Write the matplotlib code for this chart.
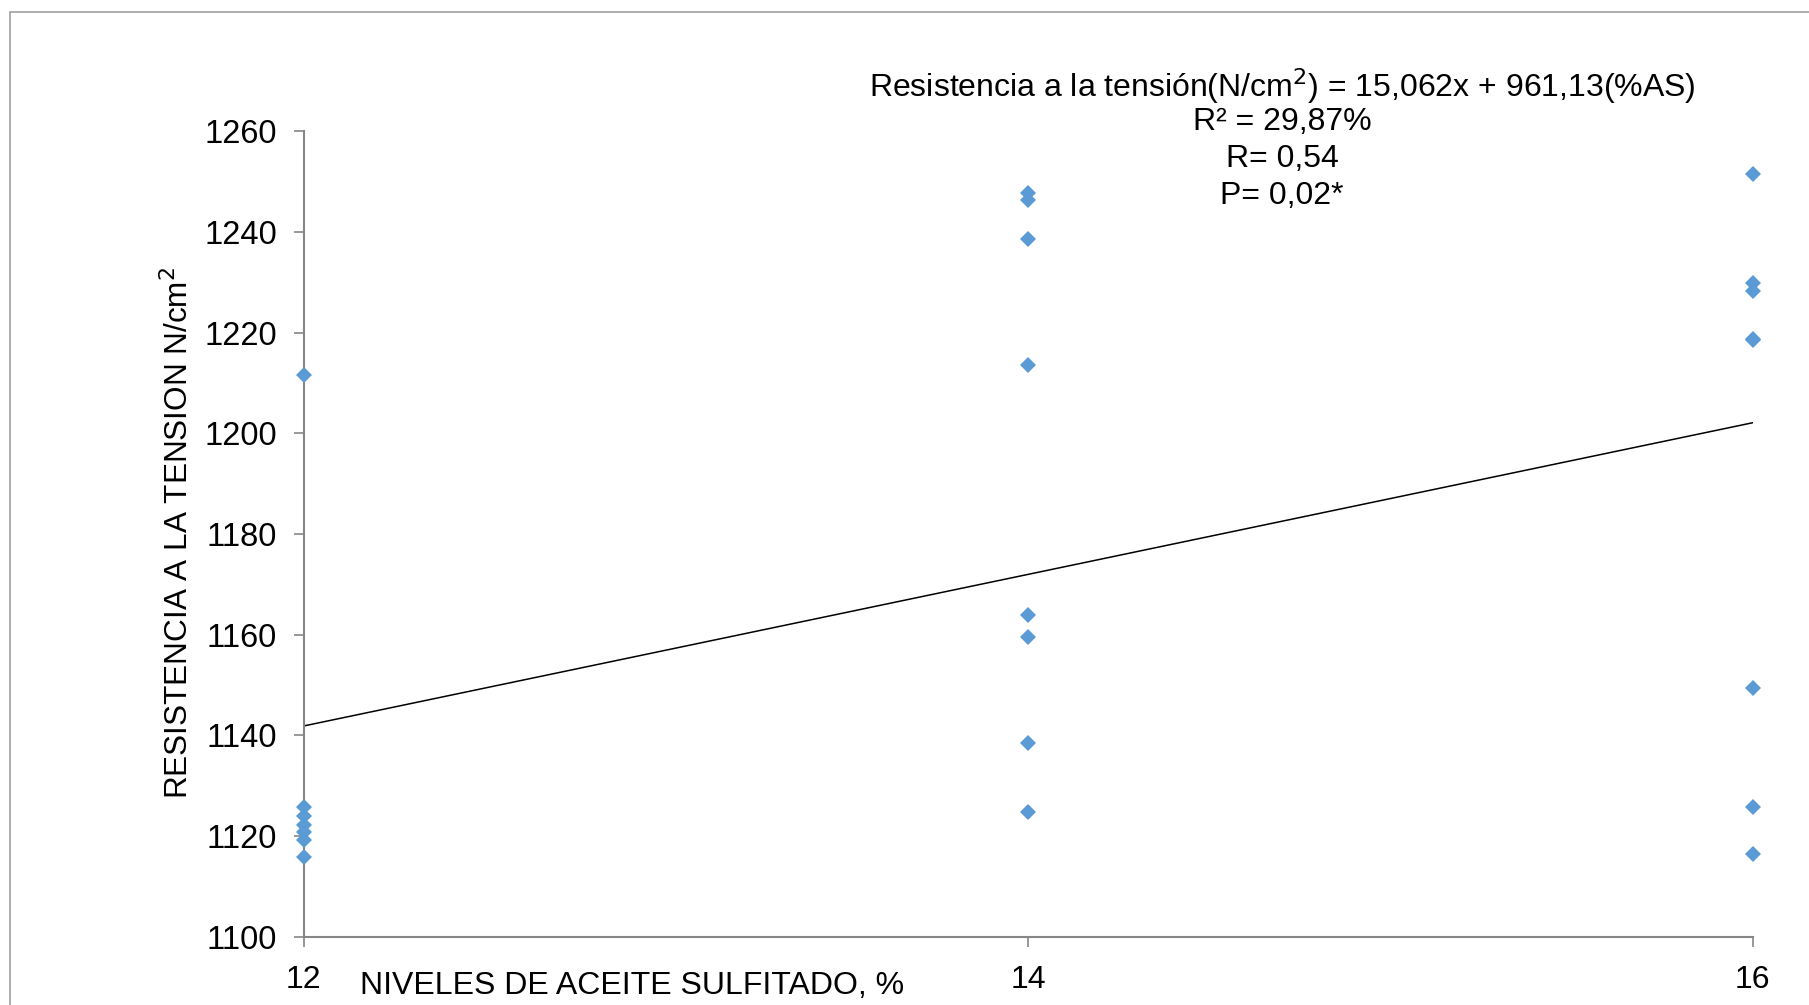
import matplotlib
matplotlib.use("Agg")
import matplotlib.pyplot as plt
from matplotlib.patches import Rectangle

# data
x_12 = [12] * 7
y_12 = [1211.6, 1125.8, 1123.9, 1122.2, 1120.9, 1119.2, 1115.8]
x_14 = [14] * 8
y_14 = [1247.7, 1246.4, 1238.6, 1213.5, 1164.0, 1159.6, 1138.5, 1124.8]
x_16 = [16] * 8
y_16 = [1251.6, 1229.8, 1228.4, 1218.8, 1218.6, 1149.5, 1125.7, 1116.5]

slope = 15.062
intercept = 961.13
fit_x = [12, 16]

x_ticks = [12, 14, 16]
y_ticks = [1100, 1120, 1140, 1160, 1180, 1200, 1220, 1240, 1260]

plt.rcParams["font.family"] = ["Liberation Sans", "DejaVu Sans"]

fig = plt.figure(figsize=(18.09, 10.05), dpi=100)
ax = fig.add_axes([0.1678, 0.0679, 0.9688 - 0.1678, 0.8692 - 0.0679])

# outer chart frame (cut off at right and bottom)
fig.patches.append(Rectangle((10 / 1809, -0.5), 2.0, 1.5 - 12 / 1005,
                             transform=fig.transFigure, fill=False,
                             edgecolor="#a0a0a0", linewidth=1.2))

xs = x_12 + x_14 + x_16
ys = y_12 + y_14 + y_16
ax.plot(xs, ys, linestyle="none", marker="D", markersize=8.5,
        color="#5b9bd5", markeredgewidth=0, zorder=3, clip_on=False)

fit_y = [intercept + slope * v for v in fit_x]
ax.plot(fit_x, fit_y, color="black", linewidth=1.1, zorder=2)

ax.set_xlim(12, 16)
ax.set_ylim(1100, 1260)
ax.set_xticks(x_ticks)
ax.set_yticks(y_ticks)
ax.tick_params(axis="y", labelsize=23.5, length=7, width=1.2, color="#868686", pad=12)
ax.tick_params(axis="x", labelsize=23, length=7, width=1.2, color="#868686", pad=13)

for side in ["top", "right"]:
    ax.spines[side].set_visible(False)
for side in ["left", "bottom"]:
    ax.spines[side].set_color("#868686")
    ax.spines[side].set_linewidth(1.5)

fig.text(179 / 1809, 1 - 533 / 1005, "RESISTENCIA A LA TENSION N/cm$^2$",
         rotation=90, ha="center", va="center", fontsize=22.7)
fig.text(632 / 1809, 1 - 986 / 1005, "NIVELES DE ACEITE SULFITADO, %",
         ha="center", va="center", fontsize=23)

eq_lines = ["Resistencia a la tensión(N/cm$^2$) = 15,062x + 961,13(%AS)",
            "R² = 29,87%", "R= 0,54", "P= 0,02*"]
eq_y = [86, 122, 159, 196]
for line, yy in zip(eq_lines, eq_y):
    fig.text(1282 / 1809, 1 - yy / 1005, line, ha="center", va="center",
             fontsize=23)

fig.savefig("out.png", dpi=100)
